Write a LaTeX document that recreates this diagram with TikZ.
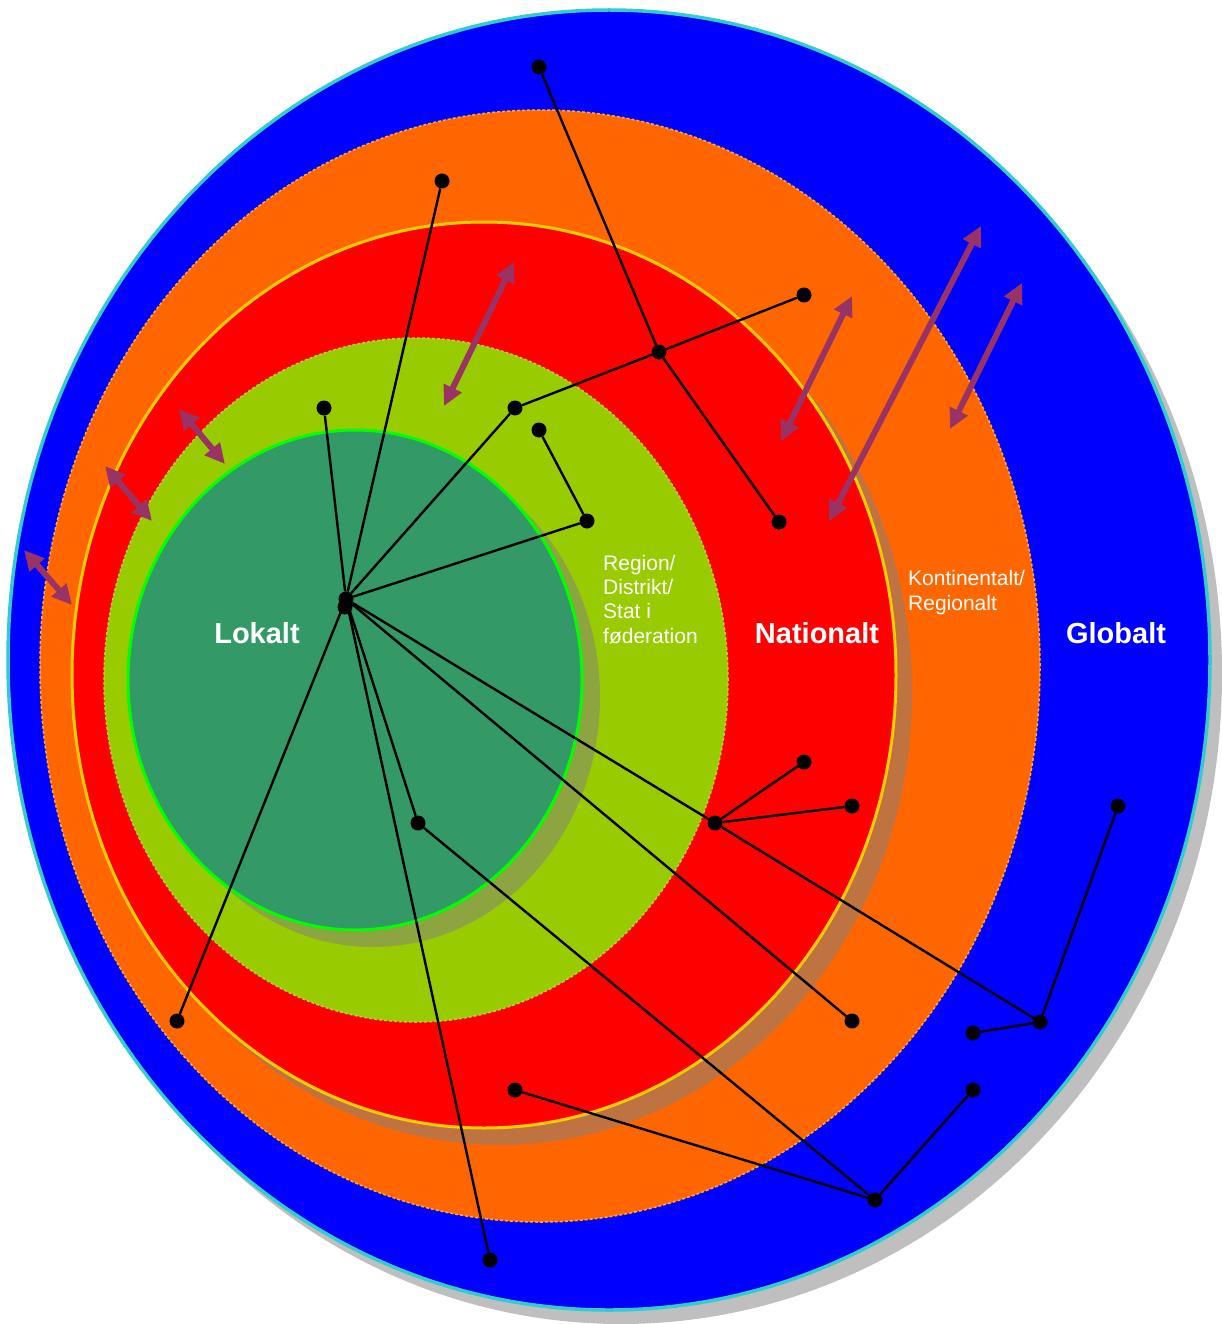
\documentclass[tikz,border=0pt]{standalone}
\usepackage{fontspec}
\setmainfont{Liberation Sans}
\usetikzlibrary{arrows.meta}
\definecolor{GlobalBlue}{RGB}{0,0,255}
\definecolor{GlobalEdge}{RGB}{51,204,204}
\definecolor{ContOrange}{RGB}{255,102,0}
\definecolor{ContEdge}{RGB}{255,170,40}
\definecolor{NatRed}{RGB}{255,0,0}
\definecolor{NatEdge}{RGB}{255,204,0}
\definecolor{RegGreen}{RGB}{153,204,0}
\definecolor{LokGreen}{RGB}{51,153,102}
\definecolor{LokEdge}{RGB}{0,255,0}
\definecolor{LinkPurple}{RGB}{153,51,102}

\begin{document}
\begin{tikzpicture}[x=1pt,y=-1pt,
  shd/.style={fill=gray,fill opacity=0.5},
  dot/.style={circle,fill=black,inner sep=0pt,minimum size=15pt},
  lnk/.style={line width=2.4pt},
  arr/.style={LinkPurple,line width=6pt,{Triangle[length=20pt,width=19pt]}-{Triangle[length=20pt,width=19pt]}},
  big/.style={text=white,inner sep=0pt,font=\fontsize{29}{35}\selectfont\bfseries,anchor=base},
  small/.style={text=white,inner sep=0pt,font=\fontsize{21}{24.3}\selectfont,align=left,anchor=base west}]
\useasboundingbox (0,0) rectangle (1221,1324);
% rings
\fill[shd] (621,674) ellipse [x radius=601pt,y radius=650pt];
\filldraw[fill=GlobalBlue,draw=GlobalEdge,line width=3.5pt] (609,660) ellipse [x radius=601pt,y radius=650pt];
\filldraw[fill=ContOrange,draw=ContEdge,line width=1.5pt,dash pattern=on 3pt off 2pt] (540,666) ellipse [x radius=500pt,y radius=556pt];
\fill[shd] (500,692) ellipse [x radius=412pt,y radius=453pt];
\filldraw[fill=NatRed,draw=NatEdge,line width=3pt] (484,675) ellipse [x radius=412pt,y radius=453pt];
\filldraw[fill=RegGreen,draw=RegGreen!80!white,line width=1.5pt,dash pattern=on 3pt off 2pt] (416,680) ellipse [x radius=312pt,y radius=342pt];
\fill[shd] (373,697) ellipse [x radius=227pt,y radius=250pt];
\filldraw[fill=LokGreen,draw=LokEdge,line width=3pt] (355,680) ellipse [x radius=227pt,y radius=250pt];
% dots
\foreach \nm/\x/\y in {topa/539/67, topb/442/181, nre/804/295, jn/659/352,
  rga/515/408, lka/324/408, rgb/539/430, rgc/587/521, nrb/779/522,
  nrc/804/762, nrd/852/806, js/715/823, lkb/418/823, glb/1118/806,
  kta/177/1021, ktb/852/1021, glc/973/1033, jg/1040/1022, nrf/515/1090,
  gld/973/1090, jk/875/1200, gle/490/1260}
  \node[dot] (\nm) at (\x,\y) {};
\node[dot] (hub) at (346,599) {};
\node[dot] (hubb) at (345,607) {};
% links
\draw[lnk] (topa) -- (jn) -- (nrb);
\draw[lnk] (nre) -- (jn) -- (rga) -- (hub);
\draw[lnk] (rgb) -- (rgc) -- (hub);
\foreach \e in {topb,lka,kta,gle,lkb,ktb,js}
  \draw[lnk] (hub) -- (\e);
\draw[lnk] (lkb) -- (jk);
\draw[lnk] (js) -- (nrc);
\draw[lnk] (js) -- (nrd);
\draw[lnk] (js) -- (jg);
\draw[lnk] (jg) -- (glc);
\draw[lnk] (jg) -- (glb);
\draw[lnk] (jk) -- (nrf);
\draw[lnk] (jk) -- (gld);
% double arrows
\foreach \i/\xa/\ya/\xb/\yb in {1/444/406/514/262, 2/781/441/852/296,
  3/829/521/981/226, 4/950/429/1022/283, 5/179/409/225/464,
  6/105/466/152/521, 7/24/550/72/605}
{
  \coordinate (as\i) at (\xa,\ya);
  \coordinate (ae\i) at (\xb,\yb);
  \draw[arr] (as\i) -- (ae\i);
}
% labels
\node[big] (lok) at (257,643) {Lokalt};
\node[big] (nat) at (817,643) {Nationalt};
\node[big] (glo) at (1116,643) {Globalt};
\node[small] (reg) at (603,643) {Region/\\Distrikt/\\Stat i\\føderation};
\node[small] (kon) at (908,610) {Kontinentalt/\\Regionalt};
\end{tikzpicture}
\end{document}
